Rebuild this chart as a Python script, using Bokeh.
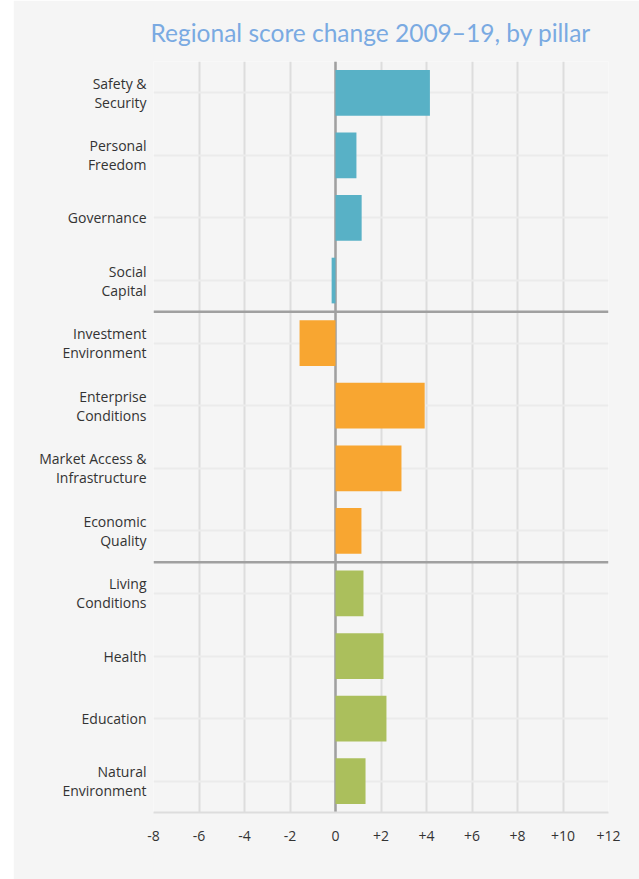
from bokeh.plotting import figure
from bokeh.models import Range1d, FixedTicker, Span, Spacer, ColumnDataSource
from bokeh.layouts import row
from bokeh.embed import file_html
from bokeh.resources import INLINE

# ---- data ----
pillars = [
    "Safety &\nSecurity", "Personal\nFreedom", "Governance", "Social\nCapital",
    "Investment\nEnvironment", "Enterprise\nConditions", "Market Access &\nInfrastructure", "Economic\nQuality",
    "Living\nConditions", "Health", "Education", "Natural\nEnvironment",
]
groups = ["Inclusive Societies"] * 4 + ["Open Economies"] * 4 + ["Empowered People"] * 4
values = [4.15, 0.92, 1.15, -0.17, -1.58, 3.92, 2.9, 1.14, 1.23, 2.11, 2.24, 1.32]
group_colors = {"Inclusive Societies": "#58b1c6", "Open Economies": "#f8a631", "Empowered People": "#abbf5c"}
x_ticks = [-8, -6, -4, -2, 0, 2, 4, 6, 8, 10, 12]
x_tick_labels = ["-8", "-6", "-4", "-2", "0", "+2", "+4", "+6", "+8", "+10", "+12"]

ypos = list(range(len(pillars)))
src = ColumnDataSource(dict(y=ypos, v=values, c=[group_colors[g] for g in groups]))

BG = "#f5f5f5"
FONT = "Open Sans"

p = figure(width=626, height=879, output_backend="svg", toolbar_location=None,
           x_range=Range1d(-8, 12), y_range=Range1d(len(pillars) - 0.5, -0.5),
           min_border_left=140, min_border_right=31, min_border_top=61, min_border_bottom=67,
           background_fill_color=BG, border_fill_color=BG, outline_line_color=None)

p.title.text = "Regional score change 2009\u201319, by pillar"
p.title.text_font = "Lato"
p.title.text_font_size = "24.5px"
p.title.text_font_style = "normal"
p.title.text_color = "#7aaae2"
p.title.align = "left"
p.title.offset = -3
p.title.standoff = 30

# grids
p.xgrid.ticker = FixedTicker(ticks=x_ticks)
p.xgrid.grid_line_color = "#dddddd"
p.xgrid.grid_line_width = 2
p.ygrid.ticker = FixedTicker(ticks=ypos)
p.ygrid.grid_line_color = "#ebebeb"
p.ygrid.grid_line_width = 2

# zero line
p.add_layout(Span(location=0, dimension="height", line_color="#a0a0a0", line_width=2.5, level="underlay"))

# group separators
for i in range(1, len(groups)):
    if groups[i] != groups[i - 1]:
        p.add_layout(Span(location=i - 0.5, dimension="width", line_color="#a0a0a0", line_width=2.5))

p.hbar(y="y", left=0, right="v", height=0.73, fill_color="c", line_color=None, source=src)

# axes
p.xaxis.ticker = FixedTicker(ticks=x_ticks)
p.xaxis.major_label_overrides = {t: l for t, l in zip(x_ticks, x_tick_labels)}
p.xaxis.axis_line_color = "#dddddd"
p.xaxis.axis_line_width = 2
p.xaxis.major_tick_line_color = None
p.xaxis.minor_tick_line_color = None
p.xaxis.major_label_standoff = 12
p.xaxis.major_label_text_font = FONT
p.xaxis.major_label_text_font_size = "14px"
p.xaxis.major_label_text_color = "#333333"

p.yaxis.ticker = FixedTicker(ticks=ypos)
p.yaxis.major_label_overrides = {i: l for i, l in zip(ypos, pillars)}
p.yaxis.axis_line_color = None
p.yaxis.major_tick_line_color = None
p.yaxis.minor_tick_line_color = None
p.yaxis.major_tick_out = 0
p.yaxis.major_label_standoff = 7
p.yaxis.major_label_text_font = FONT
p.yaxis.major_label_text_font_size = "14px"
p.yaxis.major_label_text_color = "#333333"
p.yaxis.major_label_text_line_height = 1.0

layout = row(Spacer(width=13, height=879), p)
open("out.html", "w").write(file_html(layout, INLINE))
